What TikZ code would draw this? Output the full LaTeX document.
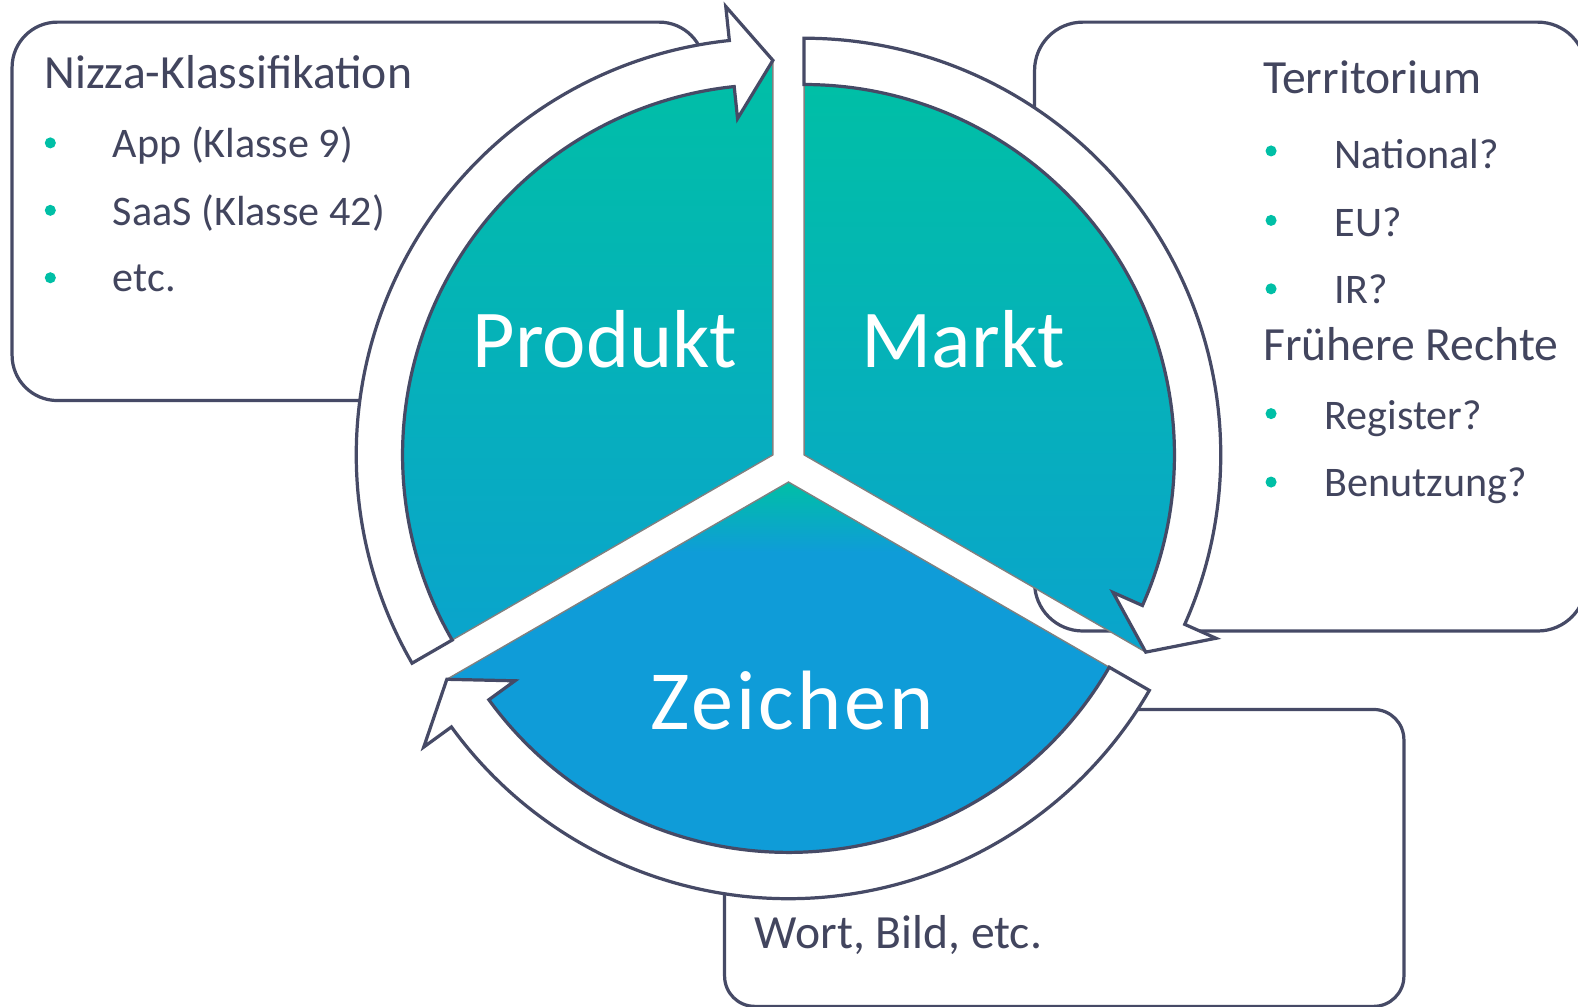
\documentclass[tikz,border=0pt]{standalone}
\usepackage{fontspec}
\setmainfont{Carlito}
\newfontfamily\zfont[LetterSpace=3.5]{Carlito}
\definecolor{dark}{HTML}{464A66}
\definecolor{txt}{HTML}{42455E}
\definecolor{tealc}{HTML}{00BFA6}
\definecolor{bluec}{HTML}{0F9CD8}
\definecolor{pbot}{HTML}{0AA4CC}
\definecolor{segline}{HTML}{808080}
\begin{document}
\begin{tikzpicture}[x=1bp,y=1bp,
  infobox/.style={draw=dark,line width=3.2bp,fill=white},
  head/.style={font=\fontsize{47.5}{56}\selectfont,text=txt,inner sep=0pt,anchor=base west},
  item/.style={font=\fontsize{42}{50}\selectfont,text=txt,inner sep=0pt,anchor=base west},
  bul/.style={circle,fill=tealc,inner sep=0pt,minimum size=11bp},
  seglabel/.style={font=\fontsize{82}{96}\selectfont,text=white,inner sep=0pt,anchor=base},
  sector/.style={draw=segline,line width=1.4bp},
  arrowband/.style={draw=dark,line width=3.2bp,fill=white,line join=miter}]
\useasboundingbox (0,6.4) rectangle (1568,1007);
\fill[white] (0,0) rectangle (1578,1007);
% boxes
\draw[infobox,rounded corners=45bp] (12,609) rectangle (700,985);
\draw[infobox,rounded corners=48bp] (1028,380) rectangle (1576,985);
\draw[infobox,rounded corners=30bp] (720,7) rectangle (1395,302);
% left box text
\node[head] (t1) at (44,919) {Nizza-Klassifikation};
\node[bul] (b1) at (50,865) {};
\node[bul] (b2) at (50,798) {};
\node[bul] (b3) at (50,731) {};
\node[item] (t2) at (112,850) {App (Klasse 9)};
\node[item] (t3) at (112,783) {SaaS (Klasse 42)};
\node[item] (t4) at (112,717) {etc.};
% right box text
\node[head] (t5) at (1255,914) {Territorium};
\node[bul] (b4) at (1263,857) {};
\node[bul] (b5) at (1263,788) {};
\node[bul] (b6) at (1263,720) {};
\node[item] (t6) at (1326,840) {National?};
\node[item] (t7) at (1326,772) {EU?};
\node[item] (t8) at (1326,705) {IR?};
\node[head] (t9) at (1255,649) {Frühere Rechte};
\node[bul] (b7) at (1263,596) {};
\node[bul] (b8) at (1263,528) {};
\node[item] (t10) at (1316,580) {Register?};
\node[item] (t11) at (1316,514) {Benutzung?};
% bottom box text
\node[head] (t12) at (750,65) {Wort, Bild, etc.};
% sectors
\coordinate (P) at (768,555);
\coordinate (M) at (799,555);
\coordinate (Z) at (783.5,528);
\begin{scope}[shift={(P)}]
  \shade[sector,top color=tealc,bottom color=pbot] (0,0) -- (210:368bp) arc[start angle=210,end angle=96,radius=368bp] -- (90:392bp) -- cycle;
\end{scope}
\begin{scope}[shift={(M)}]
  \shade[sector,top color=tealc,bottom color=pbot] (0,0) -- (90:368bp) arc[start angle=90,end angle=-24,radius=368bp] -- (-30:392bp) -- cycle;
\end{scope}
\begin{scope}[shift={(Z)}]
  \fill[bluec] (0,0) -- (330:368bp) arc[start angle=330,end angle=216,radius=368bp] -- (210:392bp) -- cycle;
  \begin{scope}
    \clip (0,0) -- (330:368bp) arc[start angle=330,end angle=216,radius=368bp] -- (210:392bp) -- cycle;
    \shade[top color=tealc,bottom color=bluec] (-400,0) rectangle (400,-70);
  \end{scope}
  \draw[sector] (0,0) -- (330:368bp) arc[start angle=330,end angle=216,radius=368bp] -- (210:392bp) -- cycle;
\end{scope}
% arrows
\begin{scope}[shift={(P)}]
  \draw[arrowband] (210:368bp) arc[start angle=210,end angle=96,radius=368bp] -- (96:336bp) -- (90:392bp) -- (96:448bp) -- (96:414bp) arc[start angle=96,end angle=210,radius=414bp] -- cycle;
\end{scope}
\begin{scope}[shift={(M)}]
  \draw[arrowband] (90:368bp) arc[start angle=90,end angle=-24,radius=368bp] -- (-24:336bp) -- (-30:392bp) -- (-24:448bp) -- (-24:414bp) arc[start angle=-24,end angle=90,radius=414bp] -- cycle;
\end{scope}
\begin{scope}[shift={(Z)}]
  \draw[arrowband] (330:368bp) arc[start angle=330,end angle=216,radius=368bp] -- (216:336bp) -- (210:392bp) -- (216:448bp) -- (216:414bp) arc[start angle=216,end angle=330,radius=414bp] -- cycle;
\end{scope}
% labels
\node[seglabel] (lp) at (601,642) {Produkt};
\node[seglabel] (lm) at (957,642) {Markt};
\node[seglabel,font=\zfont\fontsize{84}{96}\selectfont] (lz) at (787,282) {Zeichen};
\end{tikzpicture}
\end{document}
